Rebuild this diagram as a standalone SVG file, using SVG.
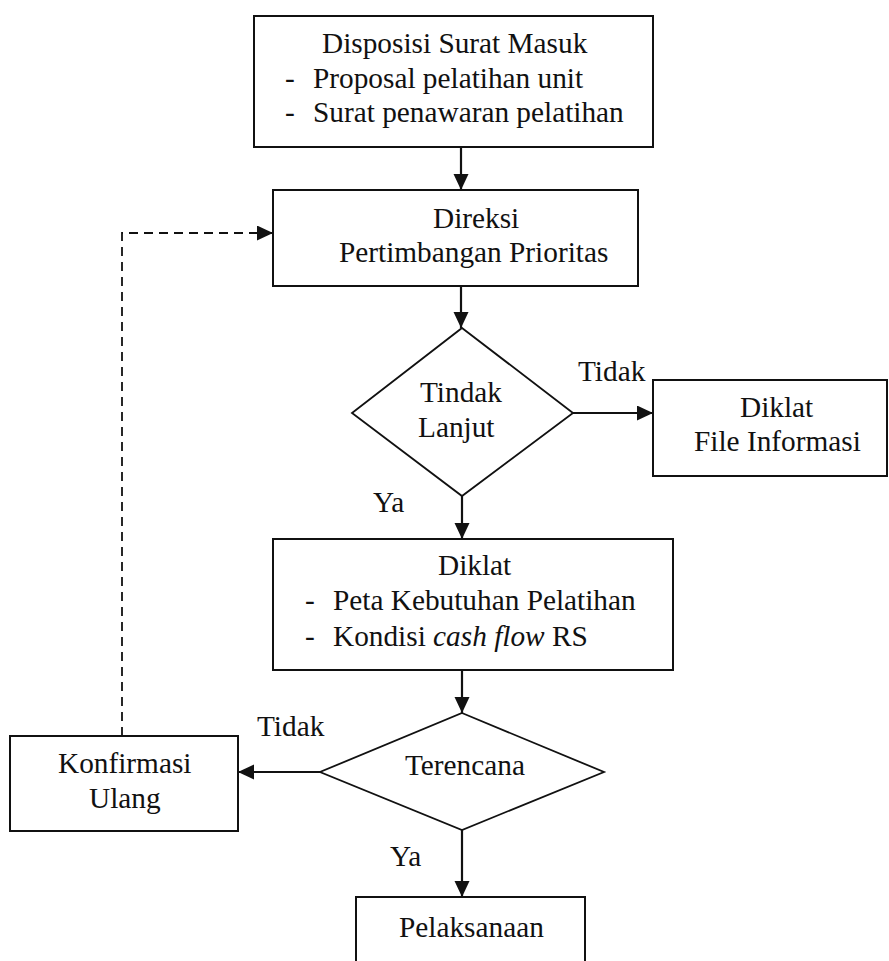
<svg xmlns="http://www.w3.org/2000/svg" width="889" height="961" viewBox="0 0 889 961">
<style>
.box{fill:none;stroke:#111;stroke-width:2}
.dia{fill:none;stroke:#111;stroke-width:1.8}
text{font-family:'Liberation Serif',Tinos,'Times New Roman',Times,'DejaVu Serif',serif;font-size:29.3px;fill:#111}
.c{stroke:#111;stroke-width:2.2;fill:none}
.d{stroke:#111;stroke-width:1.8;fill:none;stroke-dasharray:9,6}
</style>
<defs>
<marker id="ah" markerUnits="userSpaceOnUse" markerWidth="17" markerHeight="16" refX="16" refY="7.5" orient="auto">
<path d="M0,0 L16,7.5 L0,15 z" fill="#111"/>
</marker>
</defs>
<rect width="889" height="961" fill="#fff"/>
<g id="connectors">
<line class="c" x1="461" y1="148" x2="461" y2="190" marker-end="url(#ah)"/>
<line class="c" x1="461" y1="286" x2="461" y2="328" marker-end="url(#ah)"/>
<line class="c" x1="573" y1="413" x2="653" y2="413" marker-end="url(#ah)"/>
<line class="c" x1="462" y1="496" x2="462" y2="539" marker-end="url(#ah)"/>
<line class="c" x1="462" y1="670" x2="462" y2="713" marker-end="url(#ah)"/>
<line class="c" x1="320" y1="772" x2="238" y2="772" marker-end="url(#ah)"/>
<line class="c" x1="462" y1="830" x2="462" y2="897" marker-end="url(#ah)"/>
<polyline class="d" points="122,736 122,233 273,233" marker-end="url(#ah)"/>
<text x="578" y="381">Tidak</text>
<text x="373" y="512">Ya</text>
<text x="257" y="736">Tidak</text>
<text x="390" y="866">Ya</text>
</g>
<g id="disposisi">
<rect class="box" x="254" y="16" width="399" height="131"/>
<text x="322" y="53">Disposisi Surat Masuk</text>
<text x="285" y="88">-</text>
<text x="313" y="88">Proposal pelatihan unit</text>
<text x="285" y="122">-</text>
<text x="313" y="122">Surat penawaran pelatihan</text>
</g>
<g id="direksi">
<rect class="box" x="273" y="190" width="365" height="96"/>
<text x="433" y="228">Direksi</text>
<text x="339" y="262">Pertimbangan Prioritas</text>
</g>
<g id="tindak-lanjut">
<polygon class="dia" points="462,328 573,413 462,496 352,413"/>
<text x="420" y="402">Tindak</text>
<text x="418" y="437">Lanjut</text>
</g>
<g id="file-informasi">
<rect class="box" x="653" y="380" width="234" height="96"/>
<text x="740" y="417">Diklat</text>
<text x="694" y="451">File Informasi</text>
</g>
<g id="diklat">
<rect class="box" x="273" y="539" width="400" height="131"/>
<text x="438" y="575">Diklat</text>
<text x="305" y="610">-</text>
<text x="333" y="610">Peta Kebutuhan Pelatihan</text>
<text x="305" y="646">-</text>
<text x="333" y="646">Kondisi <tspan font-style="italic">cash flow</tspan> RS</text>
</g>
<g id="terencana">
<polygon class="dia" points="462,713 604,772 462,830 320,772"/>
<text x="405" y="775">Terencana</text>
</g>
<g id="konfirmasi">
<rect class="box" x="10" y="736" width="228" height="95"/>
<text x="58" y="773">Konfirmasi</text>
<text x="89" y="808">Ulang</text>
</g>
<g id="pelaksanaan">
<rect class="box" x="356" y="897" width="229" height="90"/>
<text x="399" y="937">Pelaksanaan</text>
</g>
</svg>
